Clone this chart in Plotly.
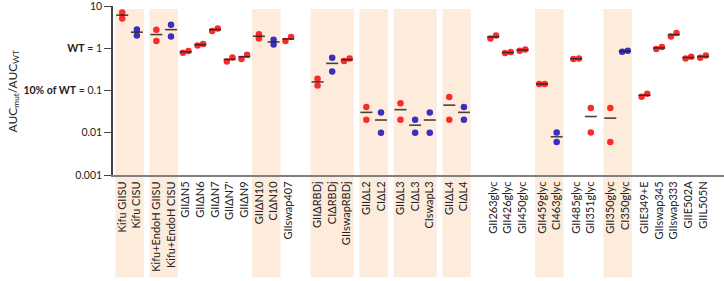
import math
import plotly.graph_objects as go

# ---------------- data ----------------
groups = [
    ["Kifu GIISU", "Kifu CISU"],
    ["Kifu+EndoH GIISU", "Kifu+EndoH CISU"],
    ["GIIΔN5", "GIIΔN6", "GIIΔN7", "GIIΔN7'", "GIIΔN9"],
    ["GIIΔN10", "CIΔN10"],
    ["GIIswap407"],
    ["GIIΔRBDj", "CIΔRBDj", "GIIswapRBDj"],
    ["GIIΔL2", "CIΔL2"],
    ["GIIΔL3", "CIΔL3", "CIswapL3"],
    ["GIIΔL4", "CIΔL4"],
    ["GII263glyc", "GII426glyc", "GII450glyc"],
    ["GII459glyc", "CI463glyc"],
    ["GII485glyc", "GII351glyc"],
    ["GII350glyc", "CI350glyc"],
    ["GIIE349+E", "GIIswap345", "GIIswap333", "GIIE502A", "GIIL505N"],
]
shaded = [True, True, False, True, False, True, True, True, True, False, True, False, True, False]
gap_before = [0, 0.33, 0, 0, 0, 1, 0.33, 0.33, 0.33, 1, 0.33, 0.33, 0.33, 0.33]

series = ["GII", "CI", "GII", "CI", "GII", "GII", "GII", "GII", "GII", "GII", "CI", "GII",
          "GII", "CI", "GII", "GII", "CI", "GII", "CI", "CI", "GII", "CI",
          "GII", "GII", "GII", "GII", "CI", "GII", "GII", "GII", "CI",
          "GII", "GII", "GII", "GII", "GII"]

rep_a = [7.05, 2.79, 2.74, 3.6, 0.78, 1.16, 2.56, 0.486, 0.56, 2.15, 1.59, 1.48,
         0.189, 0.596, 0.498, 0.0405, 0.0301, 0.0502, 0.0202, 0.0301, 0.0698, 0.0405,
         1.71, 0.77, 0.873, 0.142, 0.0101, 0.555, 0.0383, 0.0383, 0.826,
         0.071, 0.957, 1.91, 0.573, 0.596]
rep_b = [5.08, 2.01, 1.48, 1.91, 0.86, 1.26, 2.95, 0.605, 0.70, 1.69, 1.23, 1.84,
         0.131, 0.282, 0.573, 0.0202, 0.00995, 0.0202, 0.00995, 0.00995, 0.0202, 0.0202,
         2.01, 0.81, 0.94, 0.142, 0.006, 0.573, 0.0101, 0.006, 0.873,
         0.0835, 1.07, 2.29, 0.63, 0.675]

WT_LEVEL = 1
TEN_PCT_LEVEL = 0.1

# ---------------- layout of categories ----------------
categories, positions, bands = [], [], []
cur = 0.0
for gi, grp in enumerate(groups):
    if gi > 0:
        cur += 1 + gap_before[gi]
    start = cur
    for k, name in enumerate(grp):
        if k > 0:
            cur += 1
        categories.append(name)
        positions.append(cur)
    if shaded[gi]:
        bands.append((start, cur))

COL = {"GII": "#fb2b2b", "CI": "#3a2fbf"}
SPREAD = 0.19
HALF = 0.41

fig = go.Figure()

# replicate points
for ser in ["GII", "CI"]:
    xs, ys = [], []
    for i, s in enumerate(series):
        if s != ser:
            continue
        lo, hi = sorted([rep_a[i], rep_b[i]])
        if abs(math.log10(hi) - math.log10(lo)) < 0.1:
            xs += [positions[i] - SPREAD, positions[i] + SPREAD]
        else:
            xs += [positions[i], positions[i]]
        ys += [lo, hi]
    fig.add_trace(go.Scatter(x=xs, y=ys, mode="markers",
                             marker=dict(size=6.5, color=COL[ser], line=dict(width=0)),
                             showlegend=False, hoverinfo="skip"))

# mean lines
mx, my = [], []
for i in range(len(categories)):
    m = (rep_a[i] + rep_b[i]) / 2
    mx += [positions[i] - HALF, positions[i] + HALF, None]
    my += [m, m, None]
fig.add_trace(go.Scatter(x=mx, y=my, mode="lines",
                         line=dict(color="rgba(45,35,30,0.85)", width=1.6),
                         showlegend=False, hoverinfo="skip"))

shapes = []
for a, b in bands:
    shapes.append(dict(type="rect", xref="x", yref="paper", x0=a - 0.47, x1=b + 0.47,
                       y0=-0.605, y1=0.982, fillcolor="#fdebdc", line=dict(width=0),
                       layer="below"))
shapes.append(dict(type="line", xref="paper", yref="y", x0=0, x1=1,
                   y0=math.log10(WT_LEVEL), y1=math.log10(WT_LEVEL),
                   line=dict(color="#111", width=1.3)))
shapes.append(dict(type="line", xref="paper", yref="y", x0=0, x1=1,
                   y0=math.log10(TEN_PCT_LEVEL), y1=math.log10(TEN_PCT_LEVEL),
                   line=dict(color="#444", width=1.3, dash="3px,2px")))

ytickvals = [0.001, 0.01, 0.1, 1, 10]
yticktext = ["0.001", "0.01", "<b>10% of WT</b> = 0.1", "<b>WT</b> = 1", "10"]

fig.update_layout(
    width=724, height=281,
    margin=dict(l=113, r=0, t=6, b=106),
    plot_bgcolor="white", paper_bgcolor="white",
    font=dict(family="Lato, Open Sans, sans-serif", size=11, color="#222"),
    shapes=shapes,
    xaxis=dict(range=[positions[0] - 0.63, positions[0] + 41.07],
               tickmode="array", tickvals=positions, ticktext=categories,
               tickangle=-90, ticks="", showgrid=False, zeroline=False,
               showline=True, linecolor="#808080", linewidth=2,
               tickfont=dict(size=11, color="#222")),
    yaxis=dict(type="log", range=[-3, 1], tickmode="array",
               tickvals=ytickvals, ticktext=yticktext,
               ticks="outside", ticklen=7, tickwidth=1.3, tickcolor="#444",
               showgrid=False, zeroline=False, showline=True,
               linecolor="#444", linewidth=1.5, ticklabeloverflow="allow",
               tickfont=dict(size=10.5, color="#222")),
    annotations=[dict(text="AUC<sub>mut</sub>/AUC<sub>WT</sub>", xref="paper", yref="paper",
                      x=-(113 - 13) / 611, y=0.5, textangle=-90, showarrow=False,
                      font=dict(size=12, color="#222"), xanchor="center", yanchor="middle")],
)

fig.write_html("out.html", post_script="document.body.style.margin='0';",
               config={"displayModeBar": False})
